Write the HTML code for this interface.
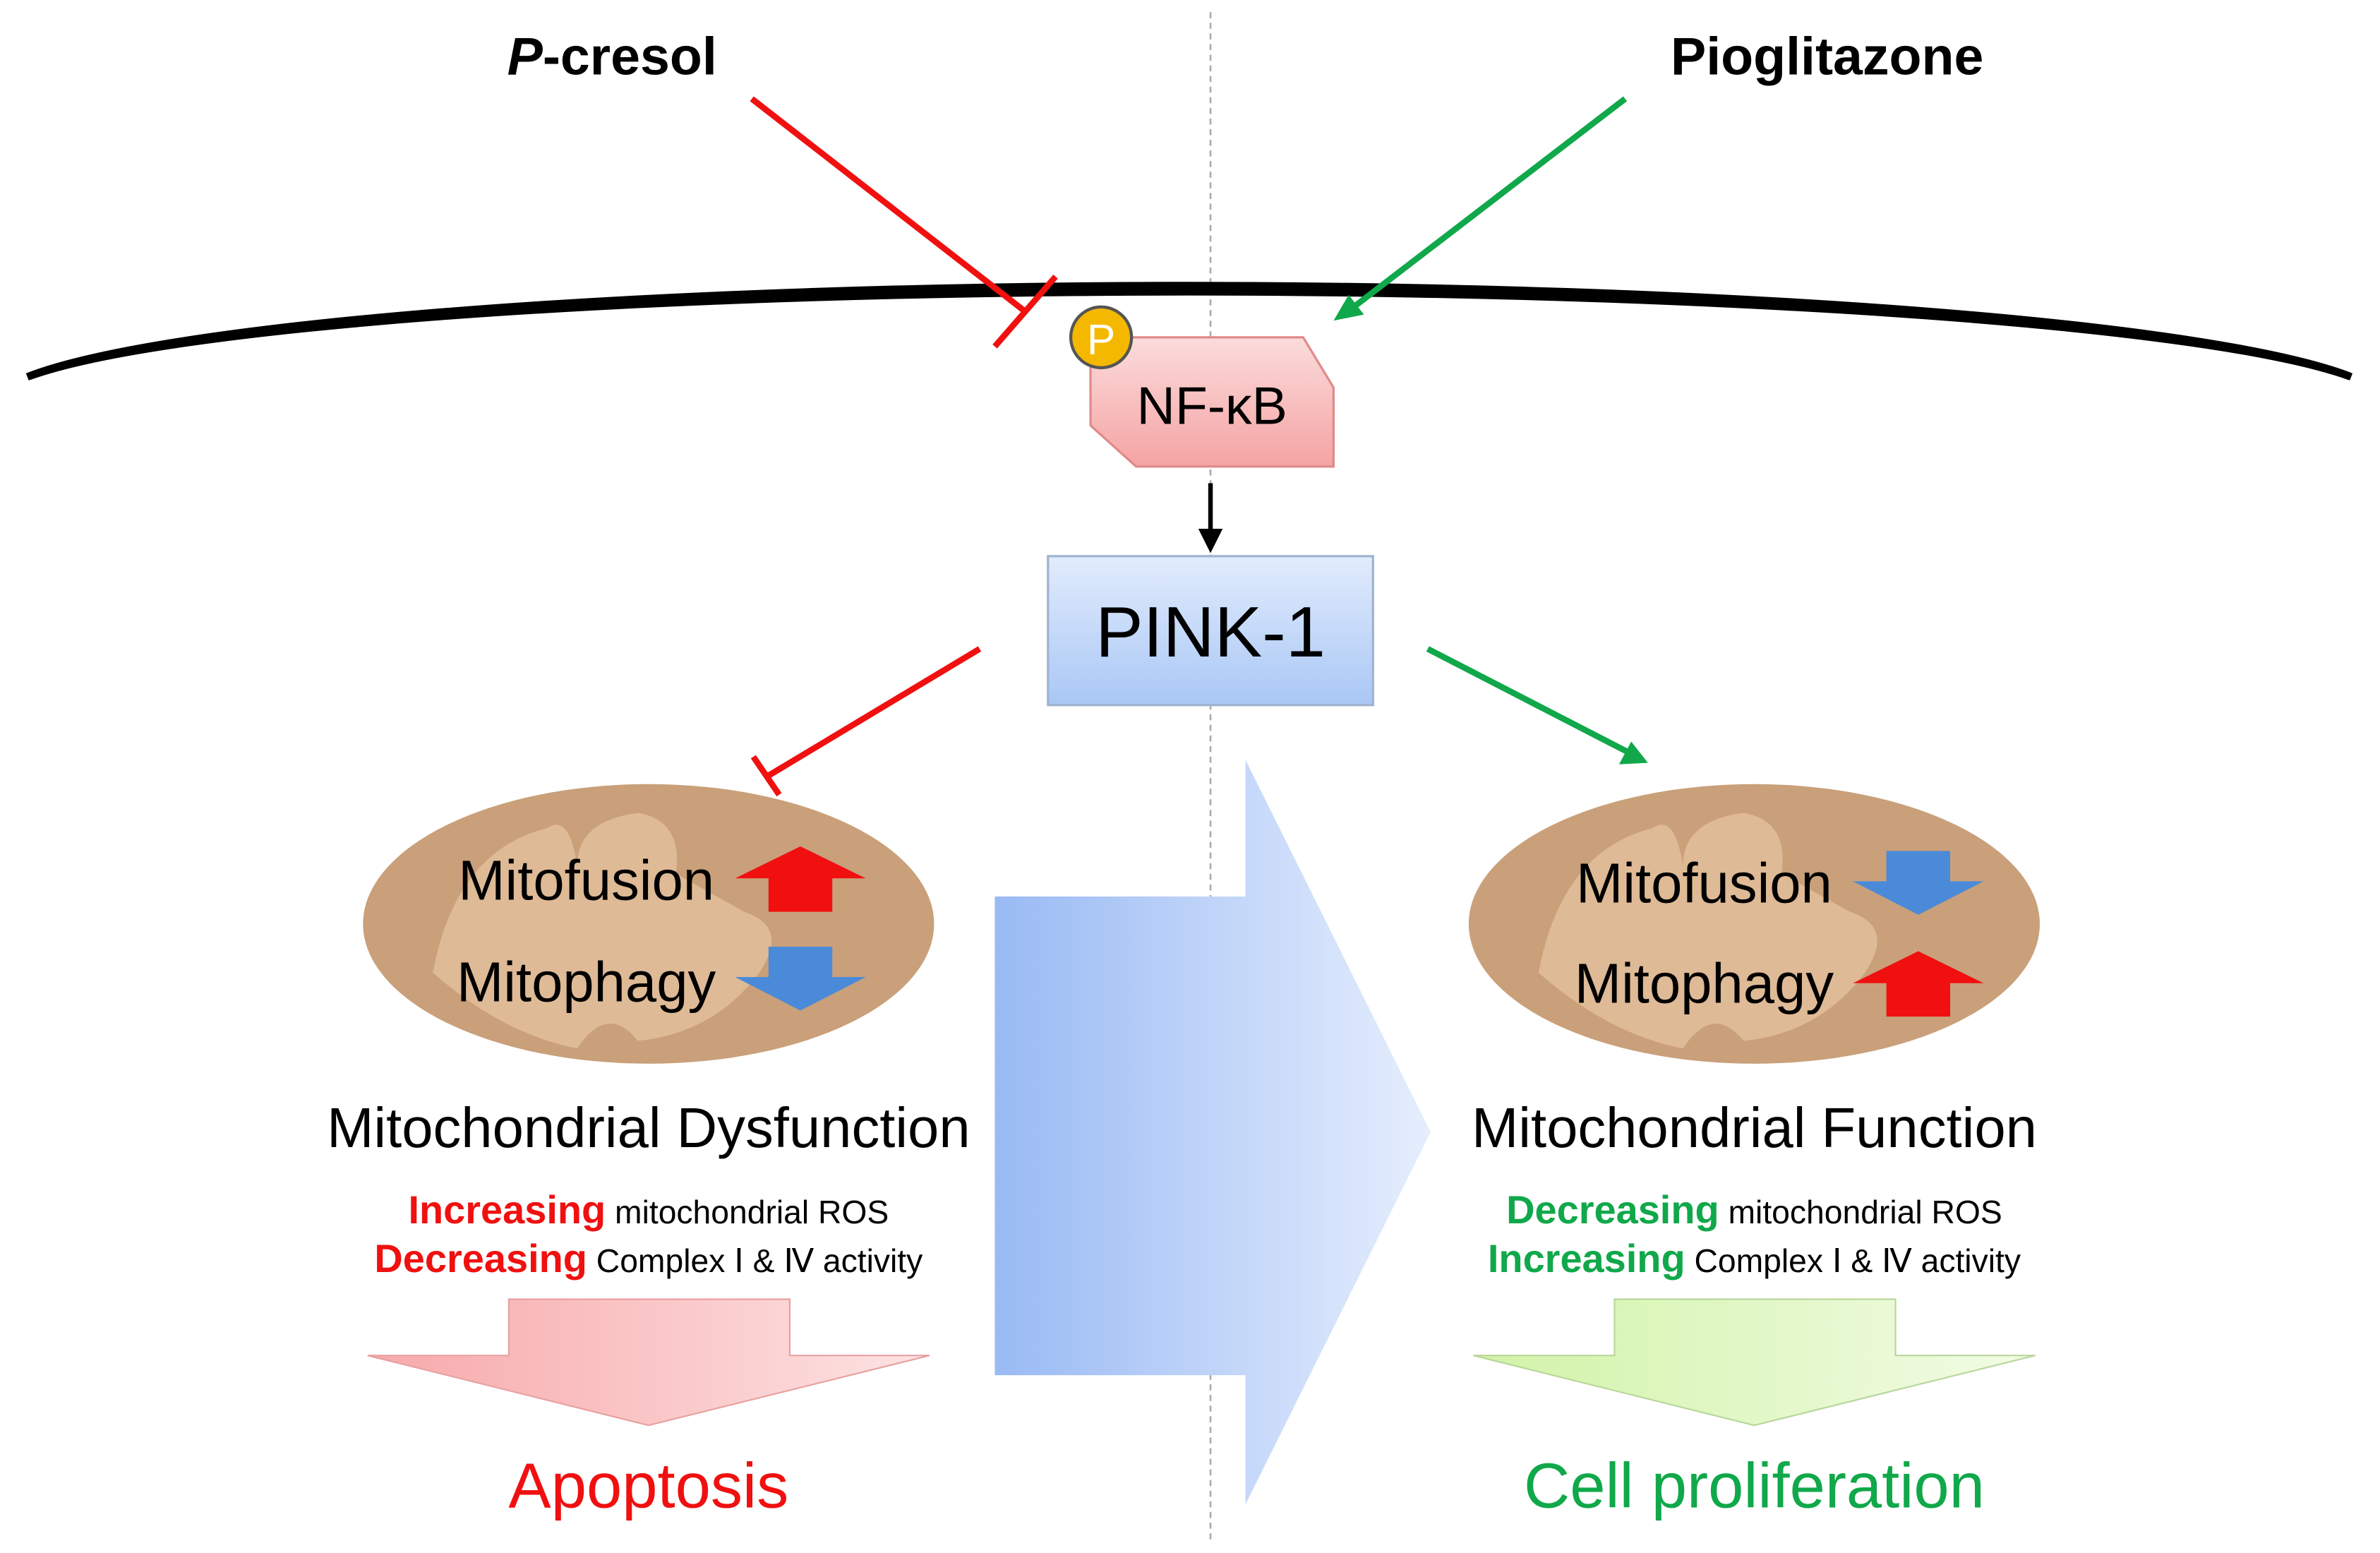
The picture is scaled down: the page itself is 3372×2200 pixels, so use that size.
<!DOCTYPE html>
<html><head><meta charset="utf-8"><style>html,body{margin:0;padding:0;background:#fff;}svg{display:block}</style></head>
<body>
<svg width="3372" height="2200" viewBox="0 0 1567 1022" preserveAspectRatio="none" xmlns="http://www.w3.org/2000/svg" font-family="Liberation Sans, sans-serif">
<defs>
<linearGradient id="nf" x1="0" y1="0" x2="0" y2="1"><stop offset="0" stop-color="#fbdcdc"/><stop offset="1" stop-color="#f5a3a3"/></linearGradient>
<linearGradient id="pk" x1="0" y1="0" x2="0" y2="1"><stop offset="0" stop-color="#e2ecfc"/><stop offset="1" stop-color="#a9c7f6"/></linearGradient>
<linearGradient id="big" x1="0" y1="0" x2="1" y2="0"><stop offset="0" stop-color="#99baf4"/><stop offset="1" stop-color="#e6eefd"/></linearGradient>
<linearGradient id="pa" x1="0" y1="0" x2="1" y2="0"><stop offset="0" stop-color="#f7a9ab"/><stop offset="1" stop-color="#fde3e3"/></linearGradient>
<linearGradient id="ga" x1="0" y1="0" x2="1" y2="0"><stop offset="0" stop-color="#d2f3a8"/><stop offset="1" stop-color="#f2fce6"/></linearGradient>
</defs>
<line x1="797" y1="8" x2="797" y2="1016" stroke="#aaa" stroke-width="1.2" stroke-dasharray="4,3"/>
<text x="403" y="49" font-size="35" font-weight="bold" text-anchor="middle"><tspan font-style="italic">P</tspan>-cresol</text>
<text x="1203" y="49" font-size="35" font-weight="bold" text-anchor="middle">Pioglitazone</text>
<path d="M18,248 A790,80 0 0 1 1548,248 L1546,250 A788,74 0 0 0 20,250 Z" fill="#000"/>
<path d="M18,248 A790,80 0 0 1 1548,248" fill="none" stroke="#000" stroke-width="5"/>
<line x1="495" y1="65" x2="675" y2="205" stroke="#f01010" stroke-width="4"/>
<line x1="655" y1="228" x2="695" y2="182" stroke="#f01010" stroke-width="4"/>
<line x1="1070" y1="65" x2="890" y2="203" stroke="#10a84a" stroke-width="4"/>
<polygon points="878,211 888,194 898,207" fill="#10a84a"/>
<polygon points="718,222 858,222 878,255 878,307 748,307 718,280" fill="url(#nf)" stroke="#e08a8a" stroke-width="1.5"/>
<text x="798" y="279" font-size="35" text-anchor="middle">NF-κB</text>
<circle cx="725" cy="222" r="20" fill="#f5b800" stroke="#555" stroke-width="2"/>
<text x="725" y="233" font-size="28" fill="#fff" text-anchor="middle">P</text>
<line x1="797" y1="318" x2="797" y2="350" stroke="#000" stroke-width="3"/>
<polygon points="789,348 805,348 797,364" fill="#000"/>
<rect x="690" y="366" width="214" height="98" fill="url(#pk)" stroke="#9fb3d0" stroke-width="1.5"/>
<text x="797" y="432" font-size="47" text-anchor="middle">PINK-1</text>
<line x1="645" y1="427" x2="505" y2="511" stroke="#f01010" stroke-width="4"/>
<line x1="496" y1="498" x2="513" y2="523" stroke="#f01010" stroke-width="4"/>
<line x1="940" y1="427" x2="1072" y2="495" stroke="#10a84a" stroke-width="4"/>
<polygon points="1085,502 1066,503 1074,488" fill="#10a84a"/>
<polygon points="655,590 820,590 820,500 942,745 820,990 820,905 655,905" fill="url(#big)"/>
<ellipse cx="427" cy="608" rx="188" ry="92" fill="#c9a07a"/>
<path d="M285,640 Q300,560 360,545 Q375,535 380,570 Q380,540 420,535 Q450,540 445,575 L490,600 Q520,610 500,640 Q470,680 420,685 Q400,660 380,690 Q330,680 285,640 Z" fill="#dfba96"/>
<ellipse cx="1155" cy="608" rx="188" ry="92" fill="#c9a07a"/>
<path d="M1013,640 Q1028,560 1088,545 Q1103,535 1108,570 Q1108,540 1148,535 Q1178,540 1173,575 L1218,600 Q1248,610 1228,640 Q1198,680 1148,685 Q1128,660 1108,690 Q1058,680 1013,640 Z" fill="#dfba96"/>
<text x="386" y="592" font-size="37" text-anchor="middle">Mitofusion</text>
<text x="386" y="659" font-size="37" text-anchor="middle">Mitophagy</text>
<polygon points="527,557 570,578 548,578 548,600 506,600 506,578 484,578" fill="#f01010"/>
<polygon points="506,623 548,623 548,643 570,643 527,665 484,643 506,643" fill="#4a8ad8"/>
<text x="1122" y="594" font-size="37" text-anchor="middle">Mitofusion</text>
<text x="1122" y="660" font-size="37" text-anchor="middle">Mitophagy</text>
<polygon points="1242,560 1284,560 1284,580 1306,580 1263,602 1220,580 1242,580" fill="#4a8ad8"/>
<polygon points="1263,626 1306,647 1284,647 1284,669 1242,669 1242,647 1220,647" fill="#f01010"/>
<text x="427" y="755" font-size="37" text-anchor="middle">Mitochondrial Dysfunction</text>
<text x="1155" y="755" font-size="37" text-anchor="middle">Mitochondrial Function</text>
<text x="427" y="805" font-size="21.5" text-anchor="middle"><tspan fill="#f01010" font-weight="bold" font-size="26">Increasing</tspan> mitochondrial ROS</text>
<text x="427" y="837" font-size="21.5" text-anchor="middle"><tspan fill="#f01010" font-weight="bold" font-size="26">Decreasing</tspan> Complex Ⅰ &amp; Ⅳ activity</text>
<text x="1155" y="805" font-size="21.5" text-anchor="middle"><tspan fill="#10a84a" font-weight="bold" font-size="26">Decreasing</tspan> mitochondrial ROS</text>
<text x="1155" y="837" font-size="21.5" text-anchor="middle"><tspan fill="#10a84a" font-weight="bold" font-size="26">Increasing</tspan> Complex Ⅰ &amp; Ⅳ activity</text>
<polygon points="335,855 520,855 520,892 612,892 427,938 242,892 335,892" fill="url(#pa)" stroke="#e9a0a0" stroke-width="1"/>
<polygon points="1063,855 1248,855 1248,892 1340,892 1155,938 970,892 1063,892" fill="url(#ga)" stroke="#b9d69a" stroke-width="1"/>
<text x="427" y="992" font-size="42" fill="#f01010" text-anchor="middle">Apoptosis</text>
<text x="1155" y="992" font-size="42" fill="#10a84a" text-anchor="middle">Cell proliferation</text>
</svg>
</body></html>
